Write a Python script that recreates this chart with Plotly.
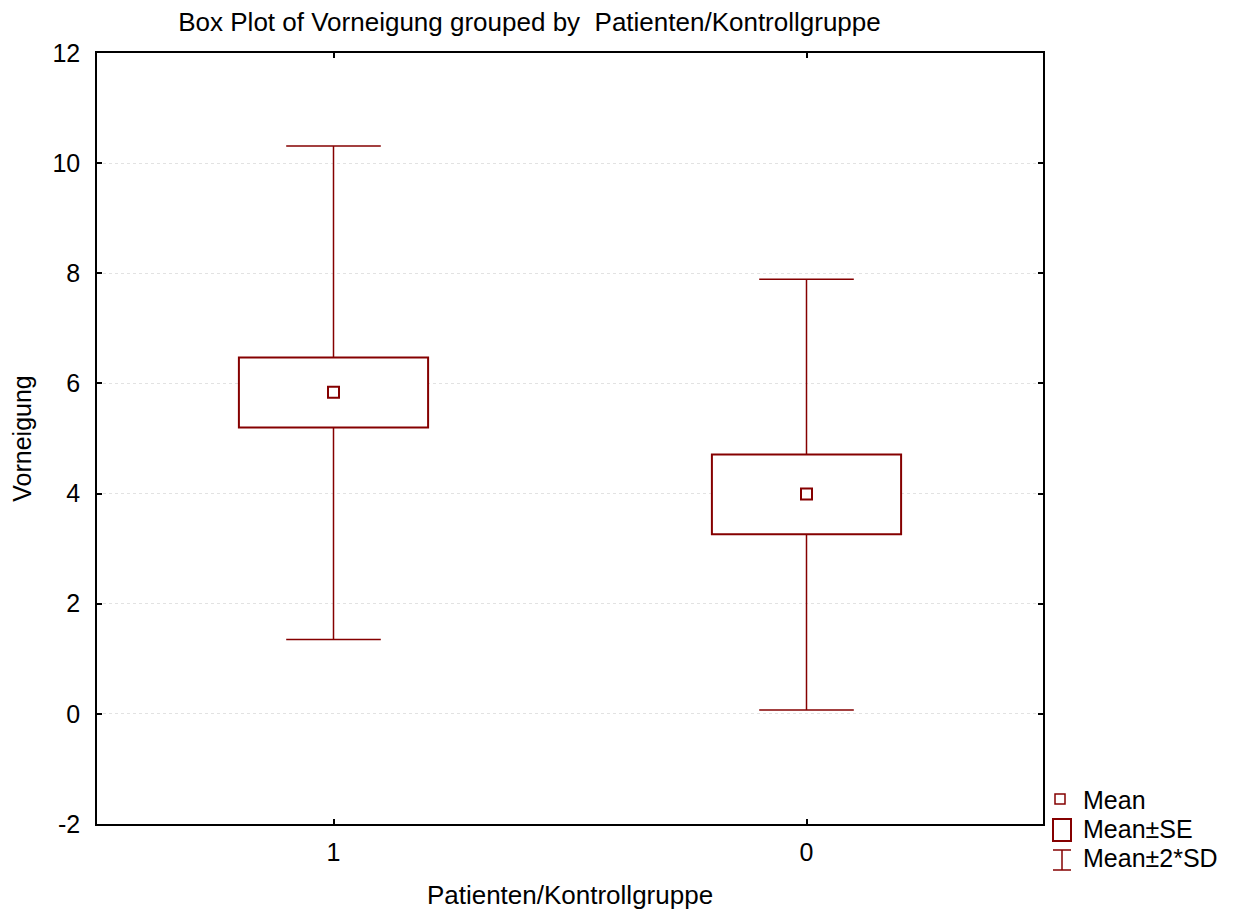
import plotly.graph_objects as go

# Summary statistics of "Vorneigung" per group
groups = ["1", "0"]
means = [5.84, 3.99]
se_low = [5.20, 3.26]      # Mean - SE
se_high = [6.47, 4.71]     # Mean + SE
sd2_low = [1.35, 0.07]     # Mean - 2*SD
sd2_high = [10.31, 7.89]   # Mean + 2*SD

y_ticks = [-2, 0, 2, 4, 6, 8, 10, 12]
y_tick_labels = [str(v) for v in y_ticks]

DARK_RED = "#850000"
FONT = "Liberation Sans, Arial, sans-serif"
W, H = 1233, 910
M_L, M_R, M_T, M_B = 97, 190, 53, 86

pos = list(range(len(groups)))
box_w = 0.4
cap_half = 0.1

fig = go.Figure()

# Mean ± SE boxes
fig.add_trace(go.Bar(
    x=pos, base=se_low, y=[h - l for h, l in zip(se_high, se_low)],
    width=box_w, marker=dict(color="white", line=dict(color=DARK_RED, width=2)),
    showlegend=False, hoverinfo="skip",
))

# Mean ± 2*SD whiskers with caps, drawn outside the boxes
wx, wy = [], []
for p, lo, hi, blo, bhi in zip(pos, sd2_low, sd2_high, se_low, se_high):
    wx += [p, p, None, p - cap_half, p + cap_half, None,
           p, p, None, p - cap_half, p + cap_half, None]
    wy += [bhi, hi, None, hi, hi, None,
           blo, lo, None, lo, lo, None]
fig.add_trace(go.Scatter(
    x=wx, y=wy, mode="lines", line=dict(color=DARK_RED, width=1.5),
    showlegend=False, hoverinfo="skip",
))

# Means
fig.add_trace(go.Scatter(
    x=pos, y=means, mode="markers",
    marker=dict(symbol="square-open", size=11, color=DARK_RED, line=dict(width=2)),
    showlegend=False,
))

axis_common = dict(
    showline=True, linecolor="black", linewidth=1.5, mirror="ticks",
    ticks="inside", ticklen=5, tickwidth=1.5, tickcolor="black",
    tickfont=dict(family=FONT, size=25, color="black"),
    zeroline=False, automargin=False,
)

fig.update_xaxes(
    range=[-0.5, len(groups) - 0.5], tickvals=pos, ticktext=groups,
    showgrid=False,
    title=dict(text="Patienten/Kontrollgruppe", font=dict(family=FONT, size=26, color="black"), standoff=24),
    ticklabelstandoff=5,
    **axis_common,
)
fig.update_yaxes(
    range=[-2, 12], tickvals=y_ticks, ticktext=y_tick_labels,
    showgrid=True, gridcolor="#e2e2e2", griddash="dot", gridwidth=1,
    title=dict(text="Vorneigung", font=dict(family=FONT, size=25, color="black"), standoff=14),
    ticklabelstandoff=10,
    **axis_common,
)

# Legend built from shapes and text at the right of the plot area
pw = W - M_L - M_R
ph = H - M_T - M_B


def px_x(x):
    return (x - M_L) / pw


def px_y(y):
    return 1 - (y - M_T) / ph


shapes = [
    dict(type="rect", xref="paper", yref="paper",
         x0=px_x(1055), x1=px_x(1065), y0=px_y(804), y1=px_y(794),
         line=dict(color=DARK_RED, width=1.5), fillcolor="white"),
    dict(type="rect", xref="paper", yref="paper",
         x0=px_x(1053), x1=px_x(1071), y0=px_y(841), y1=px_y(819),
         line=dict(color=DARK_RED, width=2), fillcolor="white"),
    dict(type="line", xref="paper", yref="paper",
         x0=px_x(1053), x1=px_x(1071), y0=px_y(850), y1=px_y(850),
         line=dict(color=DARK_RED, width=1.5)),
    dict(type="line", xref="paper", yref="paper",
         x0=px_x(1062), x1=px_x(1062), y0=px_y(850), y1=px_y(870),
         line=dict(color=DARK_RED, width=1.5)),
    dict(type="line", xref="paper", yref="paper",
         x0=px_x(1053), x1=px_x(1071), y0=px_y(870), y1=px_y(870),
         line=dict(color=DARK_RED, width=1.5)),
]
legend_labels = ["Mean", "Mean±SE", "Mean±2*SD"]
legend_y = [800, 829, 858]
annotations = [
    dict(text=t, xref="paper", yref="paper", x=px_x(1081), y=px_y(yy),
         xanchor="left", yanchor="middle", showarrow=False,
         font=dict(family=FONT, size=25, color="black"))
    for t, yy in zip(legend_labels, legend_y)
]

fig.update_layout(
    width=W, height=H,
    margin=dict(l=M_L, r=M_R, t=M_T, b=M_B),
    paper_bgcolor="white", plot_bgcolor="white",
    title=dict(text="Box Plot of Vorneigung grouped by  Patienten/Kontrollgruppe",
               font=dict(family=FONT, size=26, color="black"),
               x=529.5 / W, xref="container", xanchor="center",
               y=1 - 22 / H, yref="container", yanchor="middle"),
    shapes=shapes, annotations=annotations,
    showlegend=False,
)

fig.write_html("out.html")
